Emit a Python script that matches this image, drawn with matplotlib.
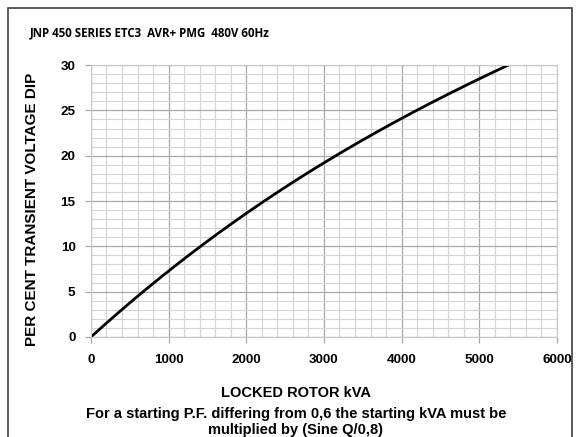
import numpy as np
import matplotlib.pyplot as plt
from matplotlib.patches import Rectangle

# courbe
kva = [0, 500, 1000, 1500, 2000, 2500, 3000, 3500, 4000, 4500, 5000, 5380]
dip = [0, 3.7, 7.3, 10.6, 13.7, 16.5, 19.1, 21.7, 24.2, 26.4, 28.5, 30]

x_ticks = [0, 1000, 2000, 3000, 4000, 5000, 6000]
y_ticks = [0, 5, 10, 15, 20, 25, 30]

titre = "JNP 450 SERIES ETC3  AVR+ PMG  480V 60Hz"
x_label = "LOCKED ROTOR kVA"
note = "For a starting P.F. differing from 0,6 the starting kVA must be\nmultiplied by (Sine Q/0,8)"
y_label = "PER CENT TRANSIENT VOLTAGE DIP"

plt.rcParams['font.family'] = ['Liberation Sans', 'DejaVu Sans']

fig = plt.figure(figsize=(5.79, 4.37), dpi=100)
ax = fig.add_axes([0.157, 0.229, 0.805, 0.622])

ax.set_xlim(0, 6000)
ax.set_ylim(0, 30)
ax.set_xticks(x_ticks)
ax.set_yticks(y_ticks)
ax.set_xticks(np.arange(0, 6001, 200), minor=True)
ax.set_yticks(np.arange(0, 31, 1), minor=True)
ax.grid(which='minor', color='#d4d4d4', lw=0.8)
ax.grid(which='major', color='#a8a8a8', lw=0.9)
ax.set_axisbelow(True)
ax.tick_params(which='minor', length=0)
ax.tick_params(which='major', length=4, color='#a8a8a8', width=0.9)
ax.tick_params(axis='x', pad=8)
ax.tick_params(axis='y', pad=7)
for sp in ax.spines.values():
    sp.set_color('#c8c8c8')
    sp.set_linewidth(0.8)
for lab in ax.get_xticklabels() + ax.get_yticklabels():
    lab.set_fontweight('bold')
    lab.set_fontsize(9.7)

# courbe lissée passant par les points lus
xs = np.linspace(kva[0], kva[-1], 300)
coef = np.polyfit(kva, dip, 3)
ax.plot(xs, np.polyval(coef, xs), color='black', lw=2)

fig.text(0.052, 0.924, titre, fontsize=8.3, fontweight='bold',
         family=['Open Sans', 'DejaVu Sans'], va='center')
fig.text(0.056, 0.522, y_label, rotation=90, fontsize=11, fontweight='bold',
         ha='center', va='center')
fig.text(0.511, 0.100, x_label, fontsize=10.5, fontweight='bold', ha='center', va='center')
fig.text(0.511, 0.035, note, fontsize=10.5, fontweight='bold', ha='center', va='center',
         linespacing=1.15)

fig.patches.append(Rectangle((0.014, -0.01), 0.974, 0.992, transform=fig.transFigure,
                             fill=False, edgecolor='#404040', lw=1.2))

fig.savefig("out.png", dpi=100)
